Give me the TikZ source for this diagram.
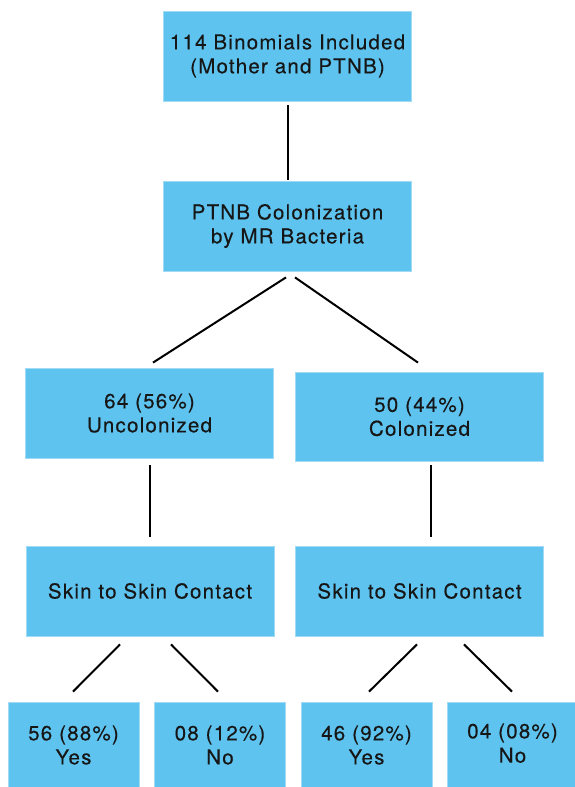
\documentclass[tikz,border=0pt]{standalone}
\usepackage{fontspec}
\setmainfont{TeX Gyre Heros}[LetterSpace=6,FakeBold=0.3]
\definecolor{boxfill}{RGB}{94,195,239}
\definecolor{boxedge}{RGB}{160,218,245}
\definecolor{txt}{RGB}{22,22,22}
\begin{document}
\begin{tikzpicture}[x=1pt,y=-1pt,
  box/.style={rectangle,fill=boxfill,draw=boxedge,line width=0.8pt,inner sep=0pt,
    align=center,text=txt,font=\fontsize{20.5}{24}\selectfont},
  wide/.style={box,minimum width=248pt,minimum height=90pt},
  leaf/.style={box,minimum width=131pt,minimum height=86pt},
  link/.style={draw=black,line width=2pt}]
\path[use as bounding box] (0,0) rectangle (575,787);
\clip (0,0) rectangle (575,787);
\node[wide] (top) at (287.5,56) {114 Binomials Included\\(Mother and PTNB)};
\node[wide] (second) at (287.5,226) {PTNB Colonization\\by MR Bacteria};
\node[wide] (lmid) at (149.5,413) {64 (56\%)\\Uncolonized};
\node[wide,minimum height=89pt] (rmid) at (419.5,416.5) {50 (44\%)\\Colonized};
\node[wide] (lskin) at (150,591) {Skin to Skin Contact};
\node[wide] (rskin) at (419.5,591) {Skin to Skin Contact};
\node[leaf] (b1) at (73.5,745) {56 (88\%)\\Yes};
\node[leaf] (b2) at (220,745) {08 (12\%)\\No};
\node[leaf] (b3) at (366.5,745) {46 (92\%)\\Yes};
\node[leaf] (b4) at (512.5,745) {\raisebox{4pt}{\shortstack{04 (08\%)\\[2pt]No}}};
\draw[link] ([yshift=-4pt]top.south) -- ([yshift=1pt]second.north);
\draw[link] ([xshift=-1.5pt,yshift=-6pt]second.south) -- ([xshift=3.5pt,yshift=5pt]lmid.north);
\draw[link] ([xshift=7.5pt,yshift=-6pt]second.south) -- ([xshift=-1.5pt,yshift=9pt]rmid.north);
\draw[link] ([xshift=0.5pt,yshift=-7pt]lmid.south) -- ([xshift=0pt,yshift=9pt]lskin.north);
\draw[link] ([xshift=11.5pt,yshift=-4pt]rmid.south) -- ([xshift=11.5pt,yshift=9pt]rskin.north);
\draw[link] ([xshift=-30pt,yshift=-8pt]lskin.south) -- ([xshift=-0.5pt,yshift=10pt]b1.north);
\draw[link] ([xshift=21pt,yshift=-8pt]lskin.south) -- ([xshift=-2pt,yshift=10pt]b2.north);
\draw[link] ([xshift=-2.5pt,yshift=-8pt]rskin.south) -- ([xshift=2.5pt,yshift=10pt]b3.north);
\draw[link] ([xshift=44.5pt,yshift=-8pt]rskin.south) -- ([xshift=-0.5pt,yshift=10pt]b4.north);
\end{tikzpicture}
\end{document}
